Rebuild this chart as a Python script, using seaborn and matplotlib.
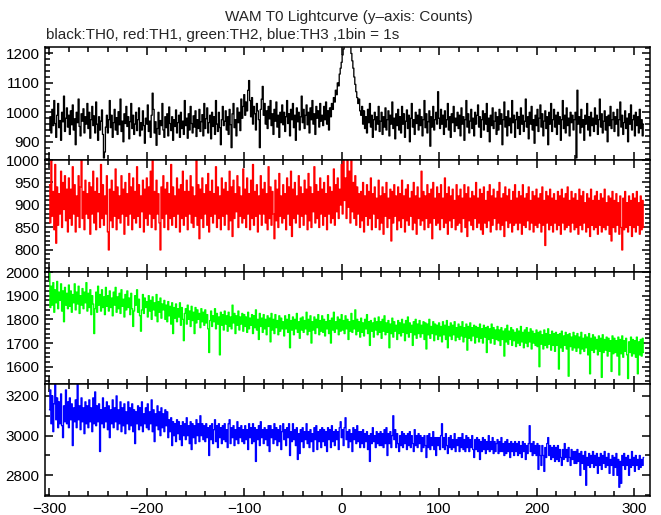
import numpy as np
import matplotlib
matplotlib.use("Agg")
import matplotlib.pyplot as plt
from matplotlib.ticker import MultipleLocator
import seaborn as sns

# ---------------- data (counts per 1 s bin, t = -300 ... ) ----------------
th0 = [
    940, 985, 930, 1010, 955, 1040, 962, 915, 990, 1030, 948, 972, 905, 1000, 968, 1055, 935, 980, 1015, 950,
    990, 925, 1005, 958, 1025, 940, 978, 890, 1000, 965, 1045, 952, 920, 995, 970, 1012, 930, 985, 960, 1030,
    945, 1000, 912, 975, 1020, 955, 988, 930, 1035, 960, 905, 985, 940, 970, 1008, 925, 845, 865, 950, 990,
    930, 975, 1040, 948, 990, 915, 965, 1010, 940, 982, 925, 1002, 958, 1045, 935, 970, 900, 995, 962, 1020,
    952, 985, 910, 968, 1030, 945, 990, 925, 960, 1000, 938, 975, 1015, 920, 965, 940, 1005, 955, 895, 980,
    960, 1025, 935, 970, 915, 990, 1065, 1010, 930, 968, 888, 945, 1000, 925, 972, 955, 1030, 940, 915, 985,
    948, 995, 920, 1018, 962, 938, 985, 905, 975, 952, 1008, 930, 965, 990, 915, 1000, 945, 970, 925, 1040,
    955, 980, 912, 995, 940, 1020, 962, 930, 988, 950, 1005, 918, 975, 945, 1010, 935, 968, 992, 920, 1030,
    945, 978, 1015, 930, 965, 990, 910, 1000, 952, 985, 925, 1040, 960, 935, 1000, 948, 890, 975, 1020, 955,
    970, 1005, 940, 985, 925, 1010, 958, 880, 995, 1030, 948, 975, 920, 1015, 965, 1000, 938, 1045, 980, 1020,
    1060, 990, 1035, 1005, 1075, 1108, 1040, 985, 1050, 960, 1020, 995, 940, 1030, 1005, 975, 880, 1010, 1045, 1088,
    990, 1030, 960, 1005, 945, 1020, 978, 1040, 955, 995, 925, 1010, 970, 1035, 950, 990, 915, 1000, 965, 1025,
    958, 1000, 935, 985, 1040, 962, 995, 920, 1010, 975, 1030, 948, 990, 905, 1015, 968, 1000, 940, 985, 1055,
    965, 1010, 945, 990, 1025, 958, 1000, 930, 1015, 975, 1040, 960, 995, 925, 1020, 980, 1005, 950, 1030, 970,
    990, 955, 1020, 975, 1035, 960, 1005, 940, 1015, 985, 1030, 1010, 1050, 1035, 1075, 1060, 1100, 1090, 1130, 1150,
    1170, 1195, 1215, 1245, 1260, 1275, 1290, 1270, 1255, 1230, 1200, 1175, 1150, 1120, 1095, 1070, 1050, 1030, 1045, 1005,
    990, 1020, 960, 1005, 945, 985, 930, 1010, 965, 1030, 950, 990, 915, 975, 1000, 940, 985, 960, 1020, 935,
    970, 1000, 925, 985, 950, 1015, 940, 975, 1005, 920, 990, 960, 1035, 945, 980, 910, 995, 955, 1010, 940,
    985, 930, 1020, 960, 995, 915, 970, 1008, 945, 990, 900, 980, 1030, 950, 975, 925, 1000, 962, 990, 940,
    1010, 955, 985, 920, 975, 1040, 948, 995, 930, 968, 1005, 885, 985, 950, 1020, 940, 975, 1000, 960, 1070,
    980, 945, 1010, 960, 990, 925, 1005, 950, 975, 1030, 940, 985, 915, 995, 965, 1020, 935, 980, 955, 1000,
    945, 990, 920, 1015, 960, 985, 905, 975, 1040, 950, 995, 930, 970, 1010, 945, 980, 920, 1000, 960, 990,
    1025, 950, 985, 915, 975, 1005, 940, 995, 960, 1030, 935, 980, 900, 990, 955, 1015, 945, 970, 1000, 925,
    985, 940, 1010, 960, 995, 890, 975, 1035, 950, 985, 920, 1005, 955, 980, 930, 1040, 965, 990, 915, 975,
    1000, 945, 985, 925, 1015, 960, 990, 935, 970, 1045, 950, 985, 910, 1000, 960, 1020, 940, 975, 895, 990,
    955, 1010, 935, 980, 1025, 950, 995, 920, 970, 1005, 945, 985, 890, 1000, 960, 1030, 935, 975, 1010, 950,
    990, 925, 1000, 960, 985, 905, 975, 1040, 945, 990, 930, 1015, 955, 980, 920, 1000, 965, 990, 940, 975,
    1000, 845, 1075, 960, 985, 930, 1010, 950, 975, 905, 990, 960, 1030, 940, 985, 920, 1000, 955, 980, 935,
    1015, 960, 990, 925, 975, 1045, 950, 995, 930, 970, 1005, 940, 985, 900, 990, 955, 1020, 945, 975, 1000,
    935, 985, 960, 1010, 920, 975, 1035, 950, 990, 925, 965, 1005, 945, 980, 900, 995, 960, 1025, 940, 975,
    990, 920, 1000, 955, 985, 930, 1010, 945, 975, 920, 960,
]

th1 = [
    945, 860, 1000, 875, 930, 845, 990, 815, 940, 855, 925, 880, 975, 850, 950, 890, 965, 865, 935, 840,
    960, 870, 935, 855, 985, 880, 945, 840, 920, 875, 965, 850, 940, 1000, 870, 930, 845, 955, 880, 925,
    870, 950, 835, 940, 880, 975, 860, 930, 845, 960, 885, 925, 850, 990, 870, 945, 855, 920, 880, 965,
    840, 800, 935, 865, 955, 850, 930, 875, 980, 845, 940, 870, 920, 860, 965, 880, 935, 835, 950, 875,
    925, 855, 970, 880, 940, 845, 960, 870, 930, 860, 985, 875, 945, 850, 920, 885, 955, 840, 935, 870,
    960, 855, 940, 880, 975, 850, 1000, 870, 930, 845, 955, 880, 925, 860, 800, 940, 870, 965, 850, 935,
    880, 950, 845, 925, 870, 990, 855, 940, 875, 920, 850, 960, 880, 935, 840, 945, 870, 975, 855, 930,
    875, 955, 845, 930, 880, 965, 860, 940, 850, 920, 875, 1000, 855, 945, 825, 935, 870, 960, 850, 925,
    880, 945, 855, 970, 840, 930, 875, 955, 860, 925, 880, 985, 850, 940, 870, 920, 845, 960, 875, 935,
    855, 950, 880, 930, 845, 975, 865, 940, 830, 955, 870, 925, 885, 965, 850, 940, 875, 920, 860, 980,
    870, 935, 850, 960, 880, 925, 845, 955, 870, 990, 855, 930, 875, 945, 840, 920, 880, 965, 855, 935,
    880, 950, 860, 925, 845, 985, 870, 940, 855, 930, 880, 825, 955, 865, 935, 850, 970, 875, 920, 860,
    945, 870, 925, 845, 960, 880, 940, 855, 975, 830, 935, 870, 950, 860, 920, 880, 965, 850, 940, 875,
    925, 855, 955, 880, 935, 845, 970, 865, 940, 850, 925, 885, 985, 860, 945, 870, 930, 850, 960, 880,
    935, 855, 950, 875, 925, 845, 965, 880, 940, 860, 930, 870, 980, 855, 945, 885, 960, 870, 935, 900,
    990, 880, 1005, 910, 960, 870, 1010, 895, 975, 860, 1000, 885, 950, 870, 965, 855, 940, 880, 925, 850,
    930, 865, 950, 840, 920, 875, 945, 855, 930, 870, 960, 845, 925, 880, 940, 850, 915, 870, 955, 845,
    920, 860, 940, 835, 925, 875, 950, 850, 915, 870, 935, 820, 930, 860, 945, 875, 920, 845, 940, 865,
    925, 850, 955, 870, 920, 840, 935, 865, 945, 855, 915, 875, 930, 845, 950, 860, 920, 835, 940, 870,
    915, 855, 975, 865, 930, 845, 920, 870, 945, 850, 925, 860, 935, 825, 950, 870, 915, 855, 940, 860,
    925, 845, 945, 870, 915, 850, 960, 860, 925, 835, 940, 865, 920, 850, 935, 870, 910, 845, 945, 855,
    920, 860, 935, 840, 915, 870, 945, 850, 925, 830, 940, 865, 915, 855, 930, 845, 920, 870, 950, 850,
    915, 860, 935, 845, 925, 835, 940, 860, 910, 850, 930, 865, 945, 840, 920, 855, 935, 870, 915, 845,
    930, 860, 950, 845, 915, 855, 925, 830, 940, 865, 920, 850, 935, 860, 910, 840, 930, 855, 945, 860,
    915, 845, 930, 860, 920, 835, 945, 855, 915, 850, 925, 865, 940, 845, 910, 860, 930, 840, 920, 855,
    935, 850, 915, 860, 925, 840, 940, 855, 910, 810, 930, 860, 920, 845, 935, 855, 915, 840, 925, 860,
    910, 845, 930, 855, 920, 835, 935, 860, 915, 845, 925, 850, 940, 855, 910, 840, 930, 860, 915, 845,
    925, 850, 910, 835, 935, 855, 920, 845, 930, 860, 905, 840, 925, 850, 915, 830, 935, 855, 910, 845,
    920, 850, 930, 835, 910, 855, 925, 840, 915, 850, 935, 845, 905, 855, 920, 835, 915, 820, 930, 850,
    910, 840, 925, 855, 905, 835, 920, 850, 800, 915, 845, 930, 850, 905, 840, 920, 855, 910, 830, 925,
    850, 915, 840, 930, 855, 905, 835, 920, 845, 910, 850,
]

th2 = [
    2000, 1850, 1940, 1860, 1955, 1830, 1925, 1870, 1960, 1845, 1915, 1880, 1950, 1835, 1920, 1790, 1935, 1860, 1910, 1845,
    1945, 1855, 1920, 1830, 1905, 1870, 1950, 1840, 1915, 1865, 1940, 1825, 1900, 1860, 1930, 1845, 1915, 1870, 1955, 1835,
    1910, 1850, 1925, 1820, 1900, 1865, 1740, 1845, 1915, 1830, 1940, 1860, 1905, 1835, 1925, 1850, 1895, 1820, 1935, 1855,
    1900, 1835, 1920, 1850, 1890, 1815, 1915, 1860, 1935, 1830, 1895, 1845, 1910, 1825, 1925, 1855, 1885, 1810, 1905, 1840,
    1920, 1850, 1890, 1820, 1910, 1845, 1770, 1835, 1900, 1860, 1925, 1830, 1885, 1815, 1750, 1840, 1905, 1825, 1890, 1850,
    1875, 1810, 1900, 1835, 1880, 1800, 1895, 1840, 1870, 1815, 1905, 1790, 1875, 1830, 1890, 1805, 1865, 1840, 1880, 1800,
    1860, 1790, 1875, 1815, 1855, 1780, 1870, 1740, 1850, 1805, 1865, 1790, 1845, 1810, 1870, 1775, 1850, 1800, 1710, 1825,
    1845, 1780, 1860, 1800, 1835, 1770, 1855, 1795, 1830, 1740, 1850, 1785, 1840, 1800, 1825, 1765, 1845, 1790, 1830, 1775,
    1840, 1785, 1820, 1760, 1660, 1795, 1835, 1770, 1815, 1790, 1845, 1760, 1825, 1780, 1810, 1650, 1830, 1775, 1820, 1755,
    1835, 1780, 1815, 1750, 1830, 1770, 1810, 1760, 1860, 1785, 1825, 1740, 1815, 1775, 1835, 1755, 1810, 1780, 1825, 1750,
    1820, 1770, 1810, 1745, 1830, 1760, 1805, 1775, 1820, 1740, 1815, 1765, 1840, 1755, 1800, 1715, 1825, 1770, 1805, 1745,
    1820, 1760, 1800, 1735, 1815, 1770, 1805, 1705, 1825, 1755, 1800, 1740, 1820, 1765, 1795, 1735, 1815, 1750, 1805, 1760,
    1790, 1730, 1815, 1760, 1800, 1745, 1820, 1680, 1795, 1755, 1810, 1735, 1800, 1760, 1825, 1745, 1790, 1720, 1805, 1755,
    1810, 1745, 1795, 1760, 1830, 1735, 1800, 1750, 1815, 1700, 1790, 1755, 1810, 1740, 1800, 1765, 1820, 1735, 1795, 1750,
    1815, 1745, 1800, 1730, 1790, 1760, 1820, 1740, 1795, 1700, 1805, 1755, 1830, 1745, 1790, 1760, 1810, 1735, 1800, 1750,
    1820, 1755, 1795, 1740, 1815, 1760, 1800, 1715, 1790, 1750, 1825, 1745, 1795, 1760, 1840, 1735, 1800, 1750, 1790, 1725,
    1805, 1745, 1785, 1730, 1800, 1760, 1820, 1740, 1790, 1690, 1795, 1750, 1785, 1725, 1805, 1755, 1790, 1735, 1810, 1745,
    1790, 1720, 1800, 1750, 1815, 1735, 1785, 1745, 1795, 1680, 1780, 1740, 1805, 1725, 1790, 1750, 1775, 1715, 1795, 1740,
    1785, 1730, 1800, 1745, 1780, 1710, 1795, 1740, 1810, 1725, 1785, 1745, 1775, 1690, 1790, 1735, 1800, 1720, 1780, 1740,
    1795, 1725, 1775, 1740, 1790, 1715, 1785, 1675, 1780, 1735, 1800, 1720, 1770, 1740, 1790, 1710, 1780, 1735, 1775, 1715,
    1785, 1730, 1770, 1705, 1790, 1735, 1775, 1715, 1795, 1680, 1770, 1730, 1785, 1715, 1775, 1735, 1790, 1710, 1765, 1725,
    1780, 1715, 1770, 1730, 1790, 1705, 1765, 1725, 1780, 1670, 1770, 1720, 1785, 1710, 1765, 1730, 1775, 1700, 1770, 1725,
    1765, 1705, 1780, 1720, 1760, 1700, 1775, 1725, 1765, 1660, 1770, 1715, 1760, 1700, 1780, 1720, 1765, 1695, 1755, 1715,
    1770, 1710, 1755, 1690, 1765, 1715, 1750, 1645, 1760, 1705, 1775, 1695, 1750, 1715, 1765, 1690, 1755, 1710, 1745, 1685,
    1760, 1700, 1750, 1690, 1770, 1705, 1745, 1680, 1755, 1700, 1765, 1685, 1745, 1705, 1760, 1675, 1750, 1700, 1740, 1690,
    1755, 1685, 1745, 1600, 1750, 1695, 1735, 1675, 1755, 1690, 1740, 1680, 1760, 1695, 1735, 1670, 1750, 1690, 1740, 1665,
    1745, 1690, 1735, 1590, 1740, 1680, 1750, 1665, 1730, 1690, 1745, 1675, 1735, 1560, 1740, 1685, 1725, 1670, 1745, 1680,
    1730, 1665, 1740, 1680, 1725, 1655, 1745, 1675, 1720, 1665, 1735, 1680, 1725, 1650, 1740, 1570, 1720, 1670, 1735, 1660,
    1725, 1675, 1715, 1650, 1730, 1665, 1720, 1555, 1735, 1660, 1715, 1670, 1725, 1645, 1720, 1665, 1710, 1580, 1730, 1655,
    1720, 1660, 1710, 1645, 1725, 1565, 1715, 1655, 1730, 1640, 1710, 1665, 1720, 1650, 1550, 1705, 1660, 1725, 1645, 1715,
    1655, 1710, 1640, 1725, 1570, 1705, 1650, 1715, 1645, 1720, 1660,
]

th3 = [
    3130, 3230, 3060, 3200, 3020, 3160, 3260, 3080, 3190, 3040, 3170, 3060, 3210, 3050, 2990, 3150, 3070, 3230, 3060, 3170,
    3040, 3190, 3080, 3160, 2950, 3140, 3070, 3180, 3040, 3260, 3080, 3150, 3030, 3190, 3070, 3140, 3010, 3170, 3060, 3150,
    3040, 3180, 3070, 3140, 3020, 3190, 3060, 3220, 3050, 3150, 3070, 3160, 2920, 3130, 3060, 3190, 3040, 3140, 3070, 3170,
    3030, 3150, 2990, 3130, 3060, 3180, 3040, 3140, 3070, 3200, 3030, 3130, 3060, 3170, 3020, 3140, 3050, 3160, 3010, 3120,
    3060, 3170, 3030, 3140, 3050, 3160, 3020, 3130, 2960, 3120, 3060, 3150, 3030, 3140, 3050, 3170, 3020, 3110, 3060, 3140,
    3040, 3160, 3030, 3120, 3060, 3180, 3020, 3130, 2970, 3110, 3050, 3150, 3030, 3120, 3000, 3140, 3040, 3110, 3020, 3130,
    3050, 3120, 2990, 3080, 3020, 3090, 2950, 3070, 3000, 3060, 2970, 3080, 3010, 3070, 2980, 3050, 2950, 3070, 3000, 3060,
    2980, 3090, 3000, 3050, 2960, 3070, 2930, 3060, 2990, 3050, 2960, 3080, 3000, 3060, 2970, 3100, 3000, 3060, 2980, 3050,
    2970, 3060, 2990, 3040, 2900, 3050, 2980, 3060, 2960, 3030, 3080, 2970, 3050, 2940, 3060, 2990, 3040, 2960, 3050, 2980,
    3060, 2970, 3030, 2940, 3060, 3080, 2960, 3040, 2990, 3050, 2950, 3030, 2980, 3070, 2960, 3040, 2990, 3050, 2970, 3030,
    2960, 3050, 2980, 3030, 2930, 3060, 2990, 3040, 2960, 3060, 2970, 3040, 2870, 3030, 2980, 3050, 2950, 3070, 2990, 3030,
    2960, 3040, 2980, 3030, 2950, 3050, 2920, 3050, 2990, 3030, 2960, 3060, 2980, 3040, 2950, 3030, 2970, 3050, 2930, 3020,
    3060, 2980, 3030, 2950, 3040, 2990, 3060, 2900, 3020, 2970, 3060, 2980, 3030, 2950, 3040, 2880, 3010, 2910, 3030, 2970,
    3040, 2940, 3020, 2980, 3060, 2960, 3020, 2940, 3030, 2970, 3010, 2920, 3040, 2980, 3050, 2930, 3020, 2970, 3030, 2940,
    3040, 2970, 3030, 2950, 3020, 2920, 3040, 2980, 3030, 2940, 3050, 2970, 3020, 2950, 3030, 2980, 3020, 2930, 3040, 3070,
    2990, 3030, 2950, 3040, 3090, 2980, 3020, 2940, 3030, 2970, 3010, 2920, 3040, 2980, 3030, 2960, 3050, 2970, 3020, 2940,
    3020, 2960, 3030, 2940, 3010, 2970, 3020, 2930, 3000, 2870, 3010, 2960, 3040, 2970, 3000, 2940, 3020, 2960, 3010, 2950,
    3020, 2950, 3010, 2940, 3030, 2960, 3040, 2900, 3010, 2960, 3020, 2940, 3000, 3100, 2980, 3030, 2940, 3010, 2960, 2920,
    3000, 2950, 3020, 2940, 3010, 2960, 3000, 2930, 3010, 2950, 3020, 2940, 3000, 2960, 2920, 3030, 2950, 3000, 2940, 3010,
    2960, 3000, 2920, 2990, 2940, 3000, 2950, 2890, 3000, 2940, 3010, 2930, 2990, 2950, 3020, 2930, 2990, 2900, 2990, 2950,
    2990, 2930, 3000, 3060, 2940, 2990, 2930, 3010, 2950, 2910, 2990, 2940, 3000, 2930, 2980, 2940, 3010, 2920, 2980, 2950,
    2990, 2920, 2990, 2940, 3010, 2930, 2980, 2920, 3000, 2940, 2990, 2920, 2980, 2940, 3000, 2930, 2890, 2980, 2930, 2990,
    2920, 2980, 2880, 2970, 2920, 2990, 2930, 2980, 2910, 2970, 2930, 3000, 2920, 2970, 2930, 2990, 2910, 2970, 2920, 2960,
    2980, 2910, 2970, 2920, 2990, 2920, 2960, 2900, 2970, 2910, 2980, 2920, 2960, 2890, 2970, 2920, 2960, 2900, 2970, 2920,
    2960, 2900, 2970, 2910, 2950, 2890, 2970, 2920, 2960, 2880, 2950, 2910, 2960, 3050, 2920, 2960, 2900, 2970, 2910, 2950,
    2900, 2960, 2830, 2950, 2900, 2850, 2950, 2900, 2820, 2940, 2890, 2960, 2990, 2900, 2950, 2880, 2940, 2890, 2950, 2870,
    2940, 2880, 2950, 2870, 2930, 2890, 2850, 2930, 2880, 2960, 2890, 2930, 2870, 2940, 2890, 2850, 2930, 2880, 2920, 2860,
    2920, 2860, 2930, 2870, 2910, 2800, 2920, 2860, 2900, 2830, 2920, 2750, 2890, 2850, 2910, 2840, 2900, 2860, 2920, 2840,
    2900, 2850, 2910, 2810, 2890, 2850, 2910, 2830, 2900, 2860, 2920, 2840, 2890, 2850, 2910, 2810, 2880, 2850, 2900, 2800,
    2890, 2840, 2910, 2800, 2880, 2740, 2870, 2760, 2900, 2850, 2910, 2830, 2890, 2850, 2900, 2800, 2880, 2840, 2920, 2850,
    2890, 2820, 2900, 2850, 2880, 2830, 2900, 2840, 2880, 2850, 2890,
]

t_start = -300
series = [th0, th1, th2, th3]
colors = ["#000000", "#ff0000", "#00ff00", "#0000ff"]
ylims = [(838, 1222), (751, 1000), (1527, 2000), (2696, 3260)]
ymajor = [100, 50, 100, 200]
yminor = [20, 10, 20, 100]
xticks = [-300, -200, -100, 0, 100, 200, 300]

title = "WAM T0 Lightcurve (y\u2013axis: Counts)"
subtitle = "black:TH0, red:TH1, green:TH2, blue:TH3 ,1bin = 1s"

# ---------------- plotting ----------------
sns.set_style("ticks")
plt.rcParams["font.family"] = ["Liberation Sans", "DejaVu Sans"]
plt.rcParams["axes.linewidth"] = 1.1

W, H = 661, 515
fig = plt.figure(figsize=(W / 100, H / 100), dpi=100)

left_px, right_px = 45, 650
edges_px = [47, 160, 272, 384, 496]

for i in range(4):
    top, bot = edges_px[i], edges_px[i + 1]
    ax = fig.add_axes([left_px / W, 1 - bot / H, (right_px - left_px) / W, (bot - top) / H])
    vals = np.asarray(series[i], dtype=float)
    t = t_start + np.arange(len(vals))
    sns.lineplot(x=t, y=vals, ax=ax, color=colors[i], lw=0.95,
                 drawstyle="steps-mid", estimator=None, legend=False)
    ax.set_xlim(-304.5, 316.5)
    ax.set_ylim(*ylims[i])
    ax.xaxis.set_major_locator(MultipleLocator(100))
    ax.xaxis.set_minor_locator(MultipleLocator(20))
    ax.yaxis.set_major_locator(MultipleLocator(ymajor[i]))
    ax.yaxis.set_minor_locator(MultipleLocator(yminor[i]))
    ax.tick_params(which="both", direction="in", top=True, right=True,
                   bottom=True, left=True, width=1.1, labelsize=11, colors="black")
    ax.tick_params(which="major", length=6, pad=4)
    ax.tick_params(which="minor", length=3.5)
    ax.set_xlabel("")
    ax.set_ylabel("")
    for s in ax.spines.values():
        s.set_visible(True)
        s.set_linewidth(1.1)
        s.set_color("black")
    if i < 3:
        ax.tick_params(labelbottom=False)
    else:
        ax.set_xticks(xticks)
        ax.set_xticklabels([f"{v:d}".replace("-", "\u2212") for v in xticks])
        ax.tick_params(axis="x", pad=4)

fig.text(349 / W, 1 - 17 / H, title, ha="center", va="center", fontsize=11)
fig.text(46 / W, 1 - 35 / H, subtitle, ha="left", va="center", fontsize=11)

fig.savefig("out.png", dpi=100)
